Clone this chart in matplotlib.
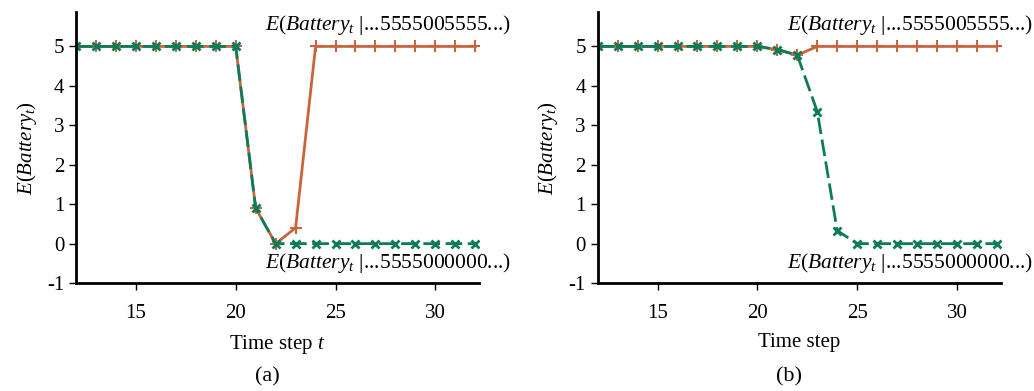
import numpy as np
import matplotlib.pyplot as plt

plt.rcParams['font.family'] = 'Liberation Serif'
plt.rcParams['mathtext.fontset'] = 'custom'
plt.rcParams['mathtext.rm'] = 'Liberation Serif'
plt.rcParams['mathtext.it'] = 'Liberation Serif:italic'
plt.rcParams['axes.unicode_minus'] = False
plt.rcParams['font.size'] = 15

t = list(range(12, 33))

# panel (a)
a_keep = [5, 5, 5, 5, 5, 5, 5, 5, 5, 0.9, 0.0, 0.4, 5, 5, 5, 5, 5, 5, 5, 5, 5]
a_drop = [5, 5, 5, 5, 5, 5, 5, 5, 5, 0.9, 0.0, 0, 0, 0, 0, 0, 0, 0, 0, 0, 0]
# panel (b)
b_keep = [5, 5, 5, 5, 5, 5, 5, 5, 5, 4.92, 4.78, 5, 5, 5, 5, 5, 5, 5, 5, 5, 5]
b_drop = [5, 5, 5, 5, 5, 5, 5, 5, 5, 4.92, 4.78, 3.35, 0.33, 0, 0, 0, 0, 0, 0, 0, 0]

panels = [(a_keep, a_drop, 'Time step $t$', '(a)'),
          (b_keep, b_drop, 'Time step', '(b)')]

orange = '#c8653f'
green = '#0b7b58'

fig = plt.figure(figsize=(10.34, 3.91), dpi=100)
lefts = [0.0735, 0.578]
width = 0.39

for i, (keep, drop, xlab, tag) in enumerate(panels):
    ax = fig.add_axes([lefts[i], 0.276, width, 0.693])
    ax.plot(t, keep, color=orange, marker='+', ms=8, mew=1.5, lw=2)
    ax.plot(t, drop, color=green, marker='x', ms=6, mew=2, lw=2,
            dashes=(6, 2))
    ax.set_xlim(12, 32.2)
    ax.set_ylim(-1, 5.87)
    ax.set_yticks([-1, 0, 1, 2, 3, 4, 5])
    ax.set_xticks([15, 20, 25, 30])
    for s in ['top', 'right']:
        ax.spines[s].set_visible(False)
    for s in ['left', 'bottom']:
        ax.spines[s].set_linewidth(2)
    ax.tick_params(width=1, length=5, labelsize=15)
    ax.tick_params(axis='x', pad=10)
    ax.set_ylabel('$E$($Battery_t$)', fontsize=15, labelpad=6)
    ax.set_xlabel(xlab, fontsize=15, labelpad=7)
    ax.text(1.08, 0.952, '$E$($Battery_t$ |...5555005555...)',
            transform=ax.transAxes, ha='right', va='center', fontsize=15.5)
    ax.text(1.08, 0.074, '$E$($Battery_t$ |...5555000000...)',
            transform=ax.transAxes, ha='right', va='center', fontsize=15.5)
    fig.text(lefts[i] + width / 2 - 0.01, 0.036, tag, ha='center',
             va='center', fontsize=16)

fig.savefig('out.png', dpi=100)
